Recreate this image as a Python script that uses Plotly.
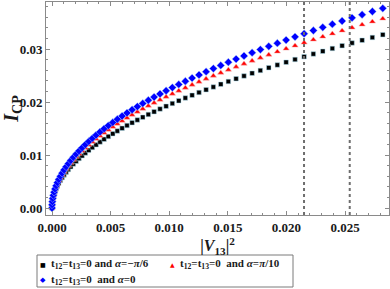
import plotly.graph_objects as go

# |V13|^2 values (shared by all three series)
v13_sq = [0.0, 0.0000071, 0.0000284, 0.000064, 0.000114, 0.000178, 0.000256, 0.000348,
          0.000455, 0.000576, 0.000711, 0.000860, 0.001024, 0.001202, 0.001394, 0.001600,
          0.001820, 0.002055, 0.002304, 0.002567, 0.002844, 0.003136, 0.003441, 0.003761,
          0.004095, 0.004444, 0.004806, 0.005183, 0.005574, 0.005980, 0.006399, 0.006833,
          0.007281, 0.007743, 0.008219, 0.008710, 0.009215, 0.009734, 0.010267, 0.010814,
          0.011376, 0.011952, 0.012542, 0.013146, 0.013765, 0.014398, 0.015045, 0.015706,
          0.016381, 0.017071, 0.017775, 0.018493, 0.019225, 0.019972, 0.020733, 0.021508,
          0.022297, 0.023100, 0.023918, 0.024750, 0.025596, 0.026456, 0.027331, 0.028220]

icp_black = [0.0, 0.000519, 0.001038, 0.001557, 0.002076, 0.002595, 0.003114, 0.003633,
             0.004152, 0.004671, 0.00519, 0.005709, 0.006228, 0.006747, 0.007266, 0.007785,
             0.008304, 0.008823, 0.009342, 0.009861, 0.01038, 0.010899, 0.011418, 0.011937,
             0.012456, 0.012975, 0.013494, 0.014013, 0.014532, 0.015051, 0.01557, 0.016089,
             0.016608, 0.017127, 0.017646, 0.018165, 0.018684, 0.019203, 0.019722, 0.020241,
             0.02076, 0.021279, 0.021798, 0.022317, 0.022836, 0.023355, 0.023874, 0.024393,
             0.024912, 0.025431, 0.02595, 0.026469, 0.026988, 0.027507, 0.028026, 0.028545,
             0.029064, 0.029583, 0.030102, 0.030621, 0.03114, 0.031659, 0.032178, 0.032697]

icp_red = [0.0, 0.000567, 0.001134, 0.001701, 0.002268, 0.002835, 0.003402, 0.003969,
           0.004536, 0.005103, 0.00567, 0.006237, 0.006804, 0.007371, 0.007938, 0.008505,
           0.009072, 0.009639, 0.010206, 0.010773, 0.01134, 0.011907, 0.012474, 0.013041,
           0.013608, 0.014175, 0.014742, 0.015309, 0.015876, 0.016443, 0.01701, 0.017577,
           0.018144, 0.018711, 0.019278, 0.019845, 0.020412, 0.020979, 0.021546, 0.022113,
           0.02268, 0.023247, 0.023814, 0.024381, 0.024948, 0.025515, 0.026082, 0.026649,
           0.027216, 0.027783, 0.02835, 0.028917, 0.029484, 0.030051, 0.030618, 0.031185,
           0.031752, 0.032319, 0.032886, 0.033453, 0.03402, 0.034587, 0.035154, 0.035721]

icp_blue = [0.0, 0.000598, 0.001196, 0.001794, 0.002392, 0.00299, 0.003588, 0.004186,
            0.004784, 0.005382, 0.00598, 0.006578, 0.007176, 0.007774, 0.008372, 0.00897,
            0.009568, 0.010166, 0.010764, 0.011362, 0.01196, 0.012558, 0.013156, 0.013754,
            0.014352, 0.01495, 0.015548, 0.016146, 0.016744, 0.017342, 0.01794, 0.018538,
            0.019136, 0.019734, 0.020332, 0.02093, 0.021528, 0.022126, 0.022724, 0.023322,
            0.02392, 0.024518, 0.025116, 0.025714, 0.026312, 0.02691, 0.027508, 0.028106,
            0.028704, 0.029302, 0.0299, 0.030498, 0.031096, 0.031694, 0.032292, 0.03289,
            0.033488, 0.034086, 0.034684, 0.035282, 0.03588, 0.036478, 0.037076, 0.037674]

vline_x = [0.0215, 0.0254]

labels = [
    "t<sub>12</sub>=t<sub>13</sub>=0 and <i>α</i>=−<i>π</i>/6",
    "t<sub>12</sub>=t<sub>13</sub>=0  and <i>α</i>=<i>π</i>/10",
    "t<sub>12</sub>=t<sub>13</sub>=0  and <i>α</i>=0",
]
colors = ["black", "red", "blue"]
symbols = ["square", "triangle-up", "diamond"]
legend_glyphs = ["■", "▲", "◆"]

FONT = "Liberation Serif"
TXT = "#1a1a1a"

fig = go.Figure()
series = [icp_black, icp_red, icp_blue]
sizes = [4.5, 5.5, 6]
halos = ["#a8dcef", "#f5b0b0", "#9cc0ff"]
for ys, lab, col, sym, sz, halo in zip(series, labels, colors, symbols, sizes, halos):
    fig.add_trace(go.Scatter(x=v13_sq, y=ys, mode="markers", name=lab, showlegend=False,
                             marker=dict(symbol=sym, size=sz, color=col,
                                         line=dict(width=0.5, color=halo))))

for vx in vline_x:
    fig.add_shape(type="line", xref="x", yref="paper", x0=vx, x1=vx, y0=0, y1=1,
                  line=dict(color="#6e6e6e", width=2, dash="dot"))

axis_common = dict(
    showline=True, linecolor="#8a8a8a", linewidth=1, mirror="ticks",
    ticks="inside", ticklen=4, tickcolor="#8a8a8a", tickwidth=1,
    showgrid=False, zeroline=False, automargin=False,
    tickfont=dict(family=FONT, size=13, color=TXT, weight="bold"),
)

fig.update_xaxes(range=[-0.000512, 0.02875], tickvals=[0, 0.005, 0.01, 0.015, 0.02, 0.025],
                 ticktext=["0.000", "0.005", "0.010", "0.015", "0.020", "0.025"],
                 minor=dict(ticks="inside", dtick=0.001, tick0=0, ticklen=2, tickcolor="#8a8a8a"),
                 title=dict(text="|<i>V</i><sub>13</sub>|<sup>2</sup>", standoff=0,
                            font=dict(family=FONT, size=16, color=TXT, weight="bold")),
                 **axis_common)
fig.update_yaxes(range=[-0.00132, 0.03887], tickvals=[0, 0.01, 0.02, 0.03],
                 ticktext=["0.00", "0.01", "0.02", "0.03"],
                 minor=dict(ticks="inside", dtick=0.002, tick0=0, ticklen=2, tickcolor="#8a8a8a"),
                 title=dict(text="<i>I</i><sub>CP</sub>", standoff=2,
                            font=dict(family=FONT, size=20, color=TXT, weight="bold")),
                 **axis_common)

# Legend (framed box with glyphs and labels, positioned in paper coords)
L, W, T, H = 46, 343, 2, 213
def px(x):
    return (x - L) / W
def py(y):
    return (T + H - y) / H

fig.add_shape(type="rect", xref="paper", yref="paper",
              x0=px(37), x1=px(293), y0=py(287), y1=py(255),
              line=dict(color="#7a7a7a", width=1), fillcolor="white", layer="above")

legend_pos = [(43, 49, 264), (172, 178, 264), (43, 49, 280)]
glyph_sizes = [6, 6, 7]
for (gx, tx, ty), lab, col, g, gs in zip(legend_pos, labels, colors, legend_glyphs, glyph_sizes):
    fig.add_annotation(xref="paper", yref="paper", x=px(gx), y=py(ty), text=g,
                       showarrow=False, xanchor="center", yanchor="middle",
                       font=dict(size=gs, color=col, family="DejaVu Sans"))
    fig.add_annotation(xref="paper", yref="paper", x=px(tx), y=py(ty), text=lab,
                       showarrow=False, xanchor="left", yanchor="middle",
                       font=dict(size=11, color=TXT, family=FONT, weight="bold"))

fig.update_layout(
    width=390, height=289,
    margin=dict(l=L, r=390 - L - W, t=T, b=289 - T - H),
    paper_bgcolor="white", plot_bgcolor="white",
    font=dict(family=FONT, color=TXT),
    showlegend=False,
)

fig.write_html("out.html", config={"displayModeBar": False},
               post_script="document.body.style.margin='0';")
